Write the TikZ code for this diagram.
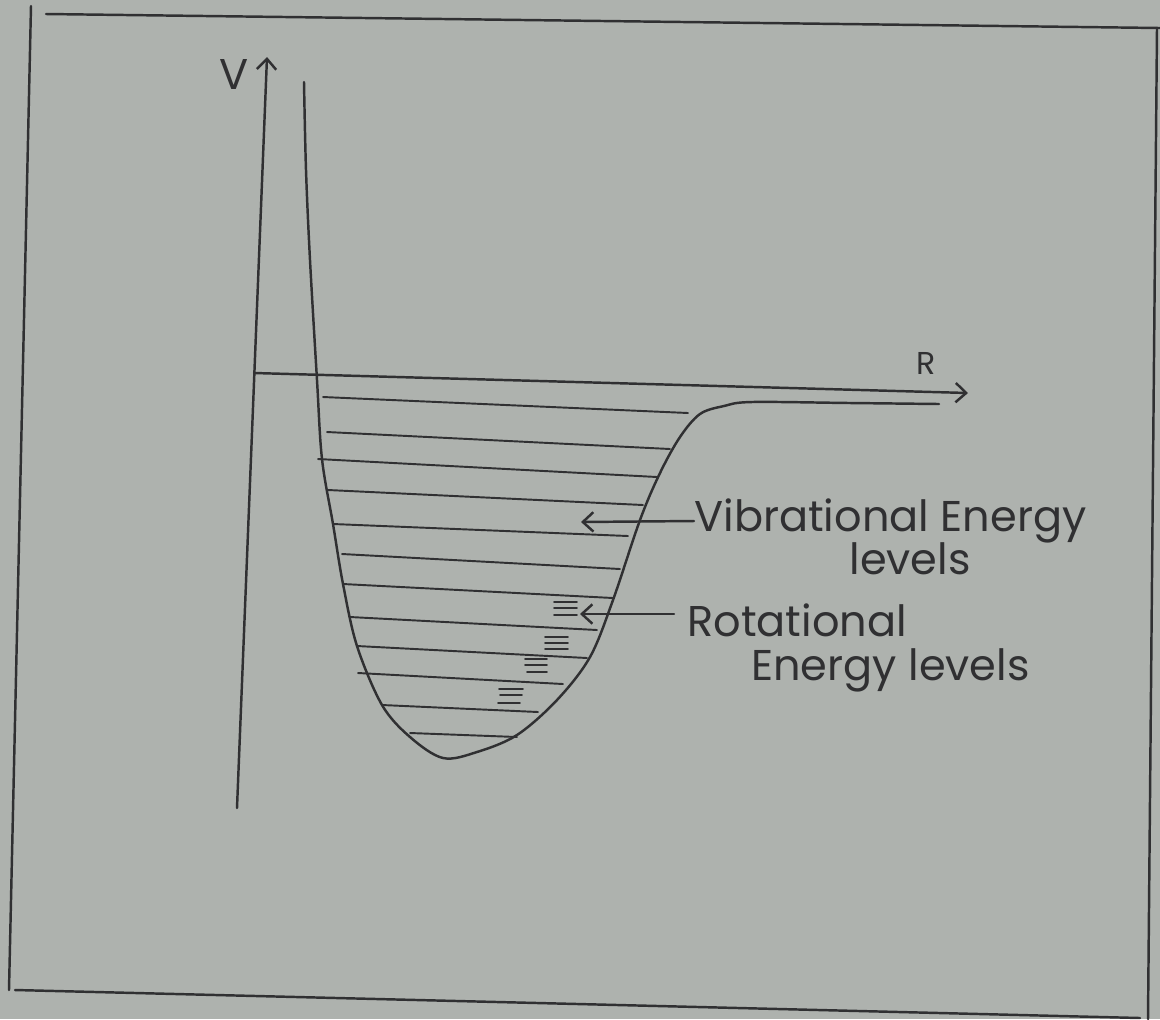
\documentclass[tikz,border=0pt]{standalone}
\usepackage{fontspec}
\setmainfont{Poppins}
\usetikzlibrary{arrows.meta}
\definecolor{paper}{RGB}{174,178,174}
\definecolor{pencil}{RGB}{48,48,50}
\tikzset{
  pen/.style={draw=pencil,line width=1.4pt,line cap=round},
  barb/.style={-{Straight Barb[length=6pt,width=11pt]}},
  hand/.style={font=\fontsize{24.5}{28}\selectfont,text=pencil,inner sep=0pt}
}

\begin{document}
\begin{tikzpicture}[x=0.02cm,y=-0.02cm]
  \fill[paper] (0,0) rectangle (1160,1019);
  \useasboundingbox (0,0) rectangle (1160,1019);
  % page frame
  \draw[pen] (46,14) -- (1160,28);
  \draw[pen] (31,6) -- (9,990);
  \draw[pen] (15,990) -- (1140,1018);
  \draw[pen] (1157,28) -- (1148,1019);
  % axes
  \coordinate (Vbot) at (237,808);
  \coordinate (Vtop) at (267,57);
  \coordinate (Rleft) at (254,373);
  \coordinate (Rright) at (968,393);
  \draw[pen,barb] (Vbot) -- (Vtop);
  \draw[pen,barb] (Rleft) -- (Rright);
  \node[hand] (Vlab) at (234,74) {V};
  \node[hand,font=\fontsize{18}{20}\selectfont] (Rlab) at (926,363) {R};
  % potential curve
  \draw[pen] plot[smooth,tension=0.55] coordinates {
    (304,82) (306,170) (310,260) (317,380) (322,459) (333,524)
    (343,584) (357,646) (382,705) (410,737) (443,758) (477,752)
    (517,735) (557,700) (590,657) (613,600) (640,520) (660,473)
    (680,437) (700,414) (724,406) (752,402) (850,403) (939,404)};
  % vibrational levels
  \foreach \xa/\ya/\xb/\yb in {323/397/688/413, 327/432/670/449,
      318/459/657/477, 328/490/643/505, 333/524/628/536,
      342/554/620/569, 343/584/613/598, 350/617/597/630,
      357/646/587/658, 358/673/563/684, 382/705/538/712,
      410/733/517/737}
    \draw[pen,line width=1.1pt] (\xa,\ya) -- (\xb,\yb);
  % rotational levels
  \foreach \xa/\xb/\y in {554/577/602, 554/577/608, 554/577/615,
      545/568/637, 545/568/643, 545/568/649,
      525/547/659, 525/547/665, 527/547/672,
      499/523/689, 500/522/695, 498/520/703}
    \draw[pen,line width=0.9pt] (\xa,\y) -- (\xb,\y);
  % labels
  \node[hand,anchor=west] (vib) at (694,521) {Vibrational Energy};
  \node[hand] (vibB) at (910,559) {levels};
  \coordinate (vibtip) at (581,522);
  \draw[pen,barb] (vib.west) -- (vibtip);
  \node[hand,anchor=west] (rot) at (687,620) {Rotational};
  \node[hand,anchor=west] (rotB) at (751,670) {Energy levels};
  \coordinate (rottail) at (674,614);
  \coordinate (rottip) at (580,614);
  \draw[pen,barb] (rottail) -- (rottip);
\end{tikzpicture}
\end{document}
